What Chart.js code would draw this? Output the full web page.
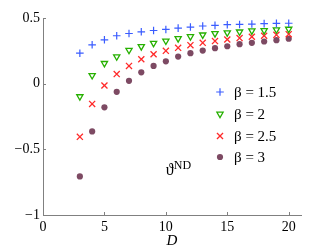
<!DOCTYPE html>
<html>
<head>
<meta charset="utf-8">
<script src="https://cdn.jsdelivr.net/npm/chart.js@4/dist/chart.umd.min.js"></script>
<style>
    html, body { margin: 0; padding: 0; background: #fff; }
    #wrap { width: 332px; height: 250px; }
</style>
</head>
<body>
<div id="wrap"><canvas id="ndChart" width="332" height="250"></canvas></div>
<script>
// D values on the x axis
var dValues = [3, 4, 5, 6, 7, 8, 9, 10, 11, 12, 13, 14, 15, 16, 17, 18, 19, 20];

// theta^ND for each beta
var beta15 = [0.232, 0.296, 0.334, 0.365, 0.382, 0.395, 0.405, 0.413, 0.423, 0.431, 0.439, 0.444, 0.449, 0.451, 0.454, 0.457, 0.459, 0.460];
var beta2  = [-0.098, 0.063, 0.155, 0.206, 0.255, 0.283, 0.308, 0.326, 0.344, 0.359, 0.372, 0.382, 0.388, 0.395, 0.403, 0.405, 0.411, 0.416];
var beta25 = [-0.405, -0.154, -0.014, 0.073, 0.135, 0.186, 0.224, 0.250, 0.273, 0.293, 0.311, 0.324, 0.336, 0.347, 0.357, 0.365, 0.372, 0.377];
var beta3  = [-0.706, -0.364, -0.180, -0.062, 0.022, 0.086, 0.135, 0.170, 0.206, 0.232, 0.252, 0.270, 0.285, 0.301, 0.311, 0.321, 0.331, 0.342];

var seriesLabels = ['β = 1.5', 'β = 2', 'β = 2.5', 'β = 3'];
var xTicks = [0, 5, 10, 15, 20];
var yTicks = [-1, -0.5, 0, 0.5];

var serif = "'Liberation Serif', 'DejaVu Serif', serif";
var axisGrey = '#808080';

function toPoints(ys) {
    return dValues.map(function(d, i) { return { x: d, y: ys[i] }; });
}

var markerStyles = [
    { pointStyle: 'cross',    radius: 3.8, color: '#3a5cff', fill: '#3a5cff', width: 1.2, rotation: 0 },
    { pointStyle: 'triangle', radius: 3.6, color: '#26b000', fill: '#ffffff', width: 1.3, rotation: 180 },
    { pointStyle: 'crossRot', radius: 4.3, color: '#ff2a2a', fill: '#ff2a2a', width: 1.3, rotation: 0 },
    { pointStyle: 'circle',   radius: 3.1, color: '#7d4a63', fill: '#7d4a63', width: 0,   rotation: 0 }
];

var allSeries = [beta15, beta2, beta25, beta3];

var datasets = allSeries.map(function(ys, i) {
    var m = markerStyles[i];
    return {
        label: seriesLabels[i],
        data: toPoints(ys),
        showLine: false,
        pointStyle: m.pointStyle,
        pointRadius: m.radius,
        pointRotation: m.rotation,
        pointBorderColor: m.color,
        pointBackgroundColor: m.fill,
        pointBorderWidth: m.width
    };
});

// small marker for the legend keys
function drawKey(ctx, style, x, y) {
    var r = style.radius;
    ctx.strokeStyle = style.color;
    ctx.fillStyle = style.fill;
    ctx.lineWidth = style.width;
    ctx.beginPath();
    if (style.pointStyle === 'cross') {
        ctx.moveTo(x - r, y); ctx.lineTo(x + r, y);
        ctx.moveTo(x, y - r); ctx.lineTo(x, y + r);
        ctx.stroke();
    } else if (style.pointStyle === 'crossRot') {
        var d = r * Math.SQRT1_2;
        ctx.moveTo(x - d, y - d); ctx.lineTo(x + d, y + d);
        ctx.moveTo(x - d, y + d); ctx.lineTo(x + d, y - d);
        ctx.stroke();
    } else if (style.pointStyle === 'triangle') {
        // pointing down
        ctx.moveTo(x, y + r);
        ctx.lineTo(x - r * Math.sin(Math.PI / 3), y - r * 0.5);
        ctx.lineTo(x + r * Math.sin(Math.PI / 3), y - r * 0.5);
        ctx.closePath();
        ctx.fill();
        ctx.stroke();
    } else {
        ctx.arc(x, y, r, 0, Math.PI * 2);
        ctx.fill();
    }
}

// inward ticks, legend inside the plot and the annotation
var decorations = {
    id: 'decorations',
    afterDraw: function(chart) {
        var ctx = chart.ctx;
        var xs = chart.scales.x, ys = chart.scales.y;
        var area = chart.chartArea;

        ctx.save();
        ctx.strokeStyle = axisGrey;
        ctx.lineWidth = 1;
        ctx.beginPath();
        xTicks.forEach(function(v) {
            var px = Math.round(xs.getPixelForValue(v)) + 0.5;
            ctx.moveTo(px, area.bottom);
            ctx.lineTo(px, area.bottom - 3);
        });
        yTicks.forEach(function(v) {
            var py = Math.round(ys.getPixelForValue(v)) + 0.5;
            ctx.moveTo(area.left, py);
            ctx.lineTo(area.left + 3, py);
        });
        ctx.stroke();

        // legend
        var legendX = 220, legendY = [92, 114, 136, 157];
        seriesLabels.forEach(function(label, i) {
            drawKey(ctx, markerStyles[i], legendX, legendY[i]);
            ctx.fillStyle = '#000';
            ctx.font = '15px ' + serif;
            ctx.textBaseline = 'middle';
            ctx.textAlign = 'left';
            ctx.fillText(label, 234, legendY[i] + 1);
        });

        // theta^ND label
        var tx = xs.getPixelForValue(10);
        var ty = ys.getPixelForValue(-0.66);
        ctx.fillStyle = '#000';
        ctx.textBaseline = 'alphabetic';
        ctx.font = '16px ' + serif;
        ctx.fillText('ϑ', tx, ty + 5);
        var w = ctx.measureText('ϑ').width;
        ctx.font = '12px ' + serif;
        ctx.fillText('ND', tx + w, ty - 1);
        ctx.restore();
    }
};

new Chart(document.getElementById('ndChart'), {
    type: 'scatter',
    data: { datasets: datasets },
    plugins: [decorations],
    options: {
        responsive: false,
        animation: false,
        devicePixelRatio: 1,
        layout: { padding: { top: 18, right: 31, left: 0, bottom: 0 } },
        plugins: {
            legend: { display: false },
            tooltip: { enabled: false }
        },
        scales: {
            x: {
                type: 'linear',
                min: 0,
                max: 21,
                afterFit: function(scale) { scale.height = 35; },
                afterBuildTicks: function(scale) {
                    scale.ticks = xTicks.map(function(v) { return { value: v }; });
                },
                grid: { display: false, drawTicks: false },
                border: { color: axisGrey, width: 1 },
                ticks: {
                    color: '#000',
                    padding: 4,
                    font: { family: serif, size: 14 }
                },
                title: {
                    display: true,
                    text: 'D',
                    color: '#000',
                    padding: { top: 0, bottom: 0 },
                    font: { family: serif, size: 15, style: 'italic' }
                }
            },
            y: {
                type: 'linear',
                min: -1,
                max: 0.5,
                afterFit: function(scale) { scale.width = 43; },
                afterBuildTicks: function(scale) {
                    scale.ticks = yTicks.map(function(v) { return { value: v }; });
                },
                grid: { display: false, drawTicks: false },
                border: { color: axisGrey, width: 1 },
                ticks: {
                    color: '#000',
                    padding: 3,
                    font: { family: serif, size: 14 },
                    callback: function(value) {
                        return String(value).replace('-', '\u2212');
                    }
                }
            }
        }
    }
});
</script>
</body>
</html>
